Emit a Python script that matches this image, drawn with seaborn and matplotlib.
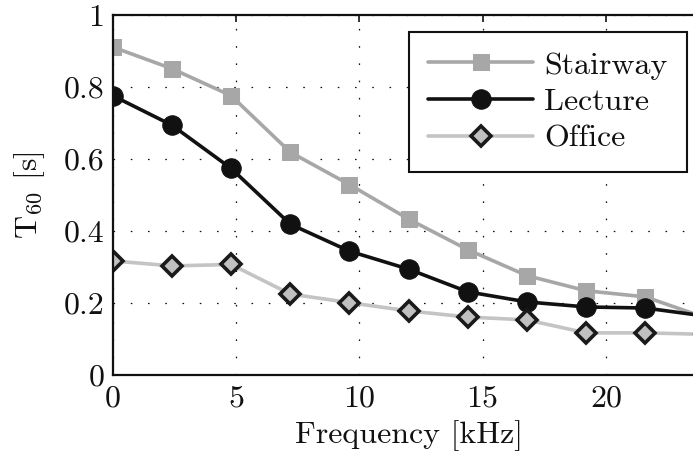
import matplotlib
matplotlib.use("Agg")
import matplotlib.pyplot as plt
import seaborn as sns
import pandas as pd

freq_khz = [0, 2.4, 4.8, 7.2, 9.6, 12, 14.4, 16.8, 19.2, 21.6, 24]
stairway = [0.911, 0.851, 0.776, 0.619, 0.529, 0.433, 0.348, 0.276, 0.234, 0.217, 0.160]
lecture = [0.776, 0.694, 0.574, 0.419, 0.344, 0.294, 0.231, 0.203, 0.189, 0.186, 0.164]
office = [0.317, 0.303, 0.307, 0.225, 0.201, 0.178, 0.161, 0.153, 0.117, 0.117, 0.113]

x_ticks = [0, 5, 10, 15, 20]
y_ticks = [0, 0.2, 0.4, 0.6, 0.8, 1]
y_tick_labels = ["0", "0.2", "0.4", "0.6", "0.8", "1"]

sns.set_theme(style="white")
plt.rcParams["font.family"] = ["cmr10", "DejaVu Serif"]
plt.rcParams["mathtext.fontset"] = "cm"
plt.rcParams["axes.formatter.use_mathtext"] = True

FS = 23
fig = plt.figure(figsize=(6.93, 4.63), dpi=100)
W, H = 693, 463
left_px, right_px, top_px, bot_px = 112.7, 112.7 + 24 * 24.66, 15, 375
ax = fig.add_axes([left_px / W, (H - bot_px) / H, (right_px - left_px) / W, (bot_px - top_px) / H])

df = pd.DataFrame({"f": freq_khz, "Stairway": stairway, "Lecture": lecture, "Office": office})

sns.lineplot(data=df, x="f", y="Stairway", ax=ax, color="#a7a7a7", lw=2.6,
             marker="s", markersize=11, markerfacecolor="#a7a7a7", markeredgecolor="#a7a7a7",
             label="Stairway")
sns.lineplot(data=df, x="f", y="Lecture", ax=ax, color="#111111", lw=2.6,
             marker="o", markersize=14, markerfacecolor="#111111", markeredgecolor="#111111",
             label="Lecture")
sns.lineplot(data=df, x="f", y="Office", ax=ax, color="#c4c4c4", lw=2.6,
             marker="D", markersize=10.5, markerfacecolor="#c0c0c0", markeredgecolor="#1a1a1a",
             markeredgewidth=2.6, label="Office")

ax.set_xlim(0, 24)
ax.set_ylim(0, 1)
ax.set_xticks(x_ticks)
ax.set_xticklabels([str(t) for t in x_ticks])
ax.set_yticks(y_ticks)
ax.set_yticklabels(y_tick_labels)
ax.tick_params(axis="both", direction="in", length=5, width=1.2, colors="#111111",
               labelsize=FS, top=True, right=True, pad=6)
ax.tick_params(axis="x", pad=7)
ax.grid(True, color="#111111", linestyle=(0, (1.3, 12.5)), linewidth=0.9)
for s in ax.spines.values():
    s.set_visible(True)
    s.set_color("#111111")
    s.set_linewidth(1.6)

ax.set_xlabel("Frequency [kHz]", fontsize=FS, color="#111111", labelpad=6)
ax.set_ylabel(r"$\mathrm{T}_{60}$ [s]", fontsize=FS, color="#111111", labelpad=12)

leg = ax.legend(loc="upper right", bbox_to_anchor=(687 / W, 1 - 32 / H),
                bbox_transform=fig.transFigure, borderaxespad=0, fontsize=FS,
                handlelength=3.3, handletextpad=0.35, labelspacing=0.26,
                borderpad=0.6, fancybox=False, framealpha=1)
leg.get_frame().set_edgecolor("#111111")
leg.get_frame().set_linewidth(1.5)
for t in leg.get_texts():
    t.set_color("#111111")

fig.savefig("out.png", dpi=100)
